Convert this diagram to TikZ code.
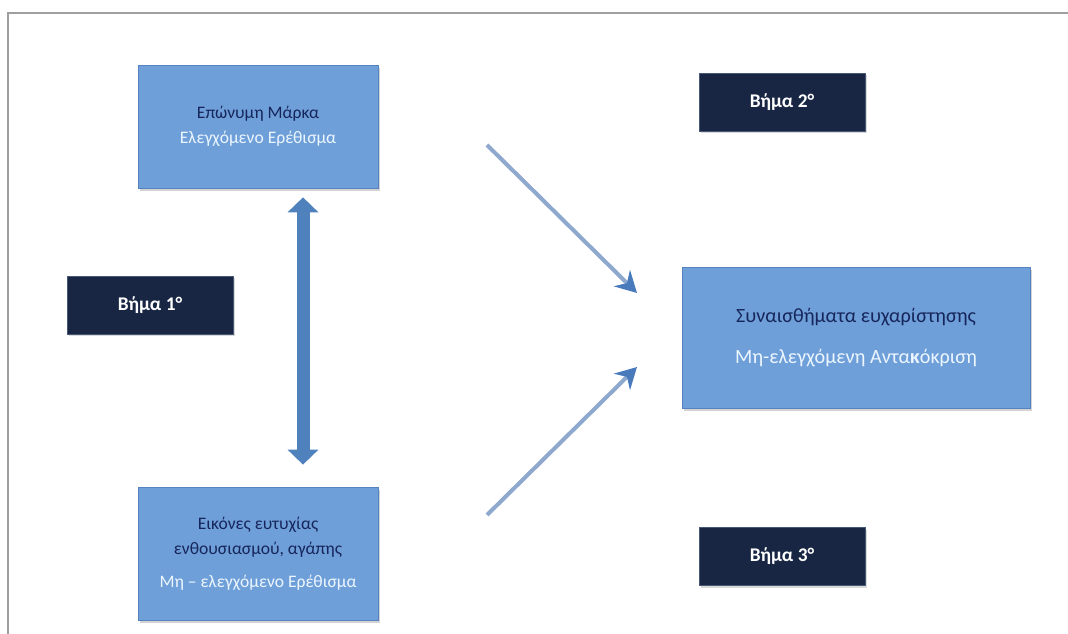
\documentclass[tikz,border=0pt]{standalone}
\usepackage{fontspec}
\setmainfont{Carlito}
\usetikzlibrary{arrows.meta,shadows}
\definecolor{boxblue}{RGB}{111,159,216}
\definecolor{boxedge}{RGB}{86,131,192}
\definecolor{textnavy}{RGB}{22,38,92}
\definecolor{lightline}{RGB}{236,246,255}
\definecolor{stepnavy}{RGB}{24,38,68}
\definecolor{stepedge}{RGB}{70,88,118}
\definecolor{arrowblue}{RGB}{79,129,189}
\definecolor{arrowgray}{RGB}{143,168,206}
\definecolor{tipblue}{RGB}{72,122,188}
\begin{document}
\begin{tikzpicture}[
  bluebox/.style={draw=boxedge, fill=boxblue, minimum width=4.8cm, align=center, text=textnavy,
    font=\fontsize{10}{14.5}\selectfont, drop shadow={opacity=0.35, shadow xshift=1.2pt, shadow yshift=-1.5pt}},
  stepbox/.style={draw=stepedge, fill=stepnavy, text=white, font=\fontsize{11}{12}\selectfont\bfseries,
    minimum width=3.32cm, minimum height=1.16cm, drop shadow={opacity=0.3, shadow xshift=1pt, shadow yshift=-1.2pt}},
  thinarrow/.style={draw=arrowgray, line width=2.3pt, -{Stealth[length=12pt, width=13pt, inset=4pt, color=tipblue]}},
  bigarrow/.style={draw=arrowblue, line width=7.4pt, {Triangle[width=17pt, length=8.5pt]}-{Triangle[width=17pt, length=8.5pt]}}
]
\useasboundingbox (0,0) rectangle (21.36,12.68);
\draw[gray!75, line width=1.6pt] (0.16,0) -- (0.16,12.42) -- (21.36,12.42);

\node[bluebox, minimum height=2.46cm] (brand) at (5.16,10.15)
  {Επώνυμη Μάρκα\\ \textcolor{lightline}{Ελεγχόμενο Ερέθισμα}};
\node[bluebox, minimum height=2.66cm] (images) at (5.16,1.61)
  {Εικόνες ευτυχίας\\ ενθουσιασμού, αγάπης\\[4pt] \textcolor{lightline}{Μη – ελεγχόμενο Ερέθισμα}};
\node[bluebox, minimum width=6.96cm, minimum height=2.82cm, font=\fontsize{11.5}{14}\selectfont] (feelings) at (17.12,5.93)
  {Συναισθήματα ευχαρίστησης\\[9pt] \textcolor{lightline}{Μη-ελεγχόμενη Αντα\textbf{κ}όκριση}};

\node[stepbox] (step1) at (3.0,6.58) {Βήμα 1°};
\node[stepbox] (step2) at (15.64,10.64) {Βήμα 2°};
\node[stepbox] (step3) at (15.64,1.55) {Βήμα 3°};

\draw[bigarrow] ([xshift=0.9cm, yshift=-0.18cm]brand.south) -- ([xshift=0.9cm, yshift=0.44cm]images.north);

\coordinate (fromBrand) at (9.74,9.78);
\coordinate (toFeelTop) at (12.74,6.82);
\coordinate (fromImages) at (9.74,2.38);
\coordinate (toFeelLow) at (12.74,5.34);
\draw[thinarrow] (fromBrand) -- (toFeelTop);
\draw[thinarrow] (fromImages) -- (toFeelLow);
\end{tikzpicture}
\end{document}
